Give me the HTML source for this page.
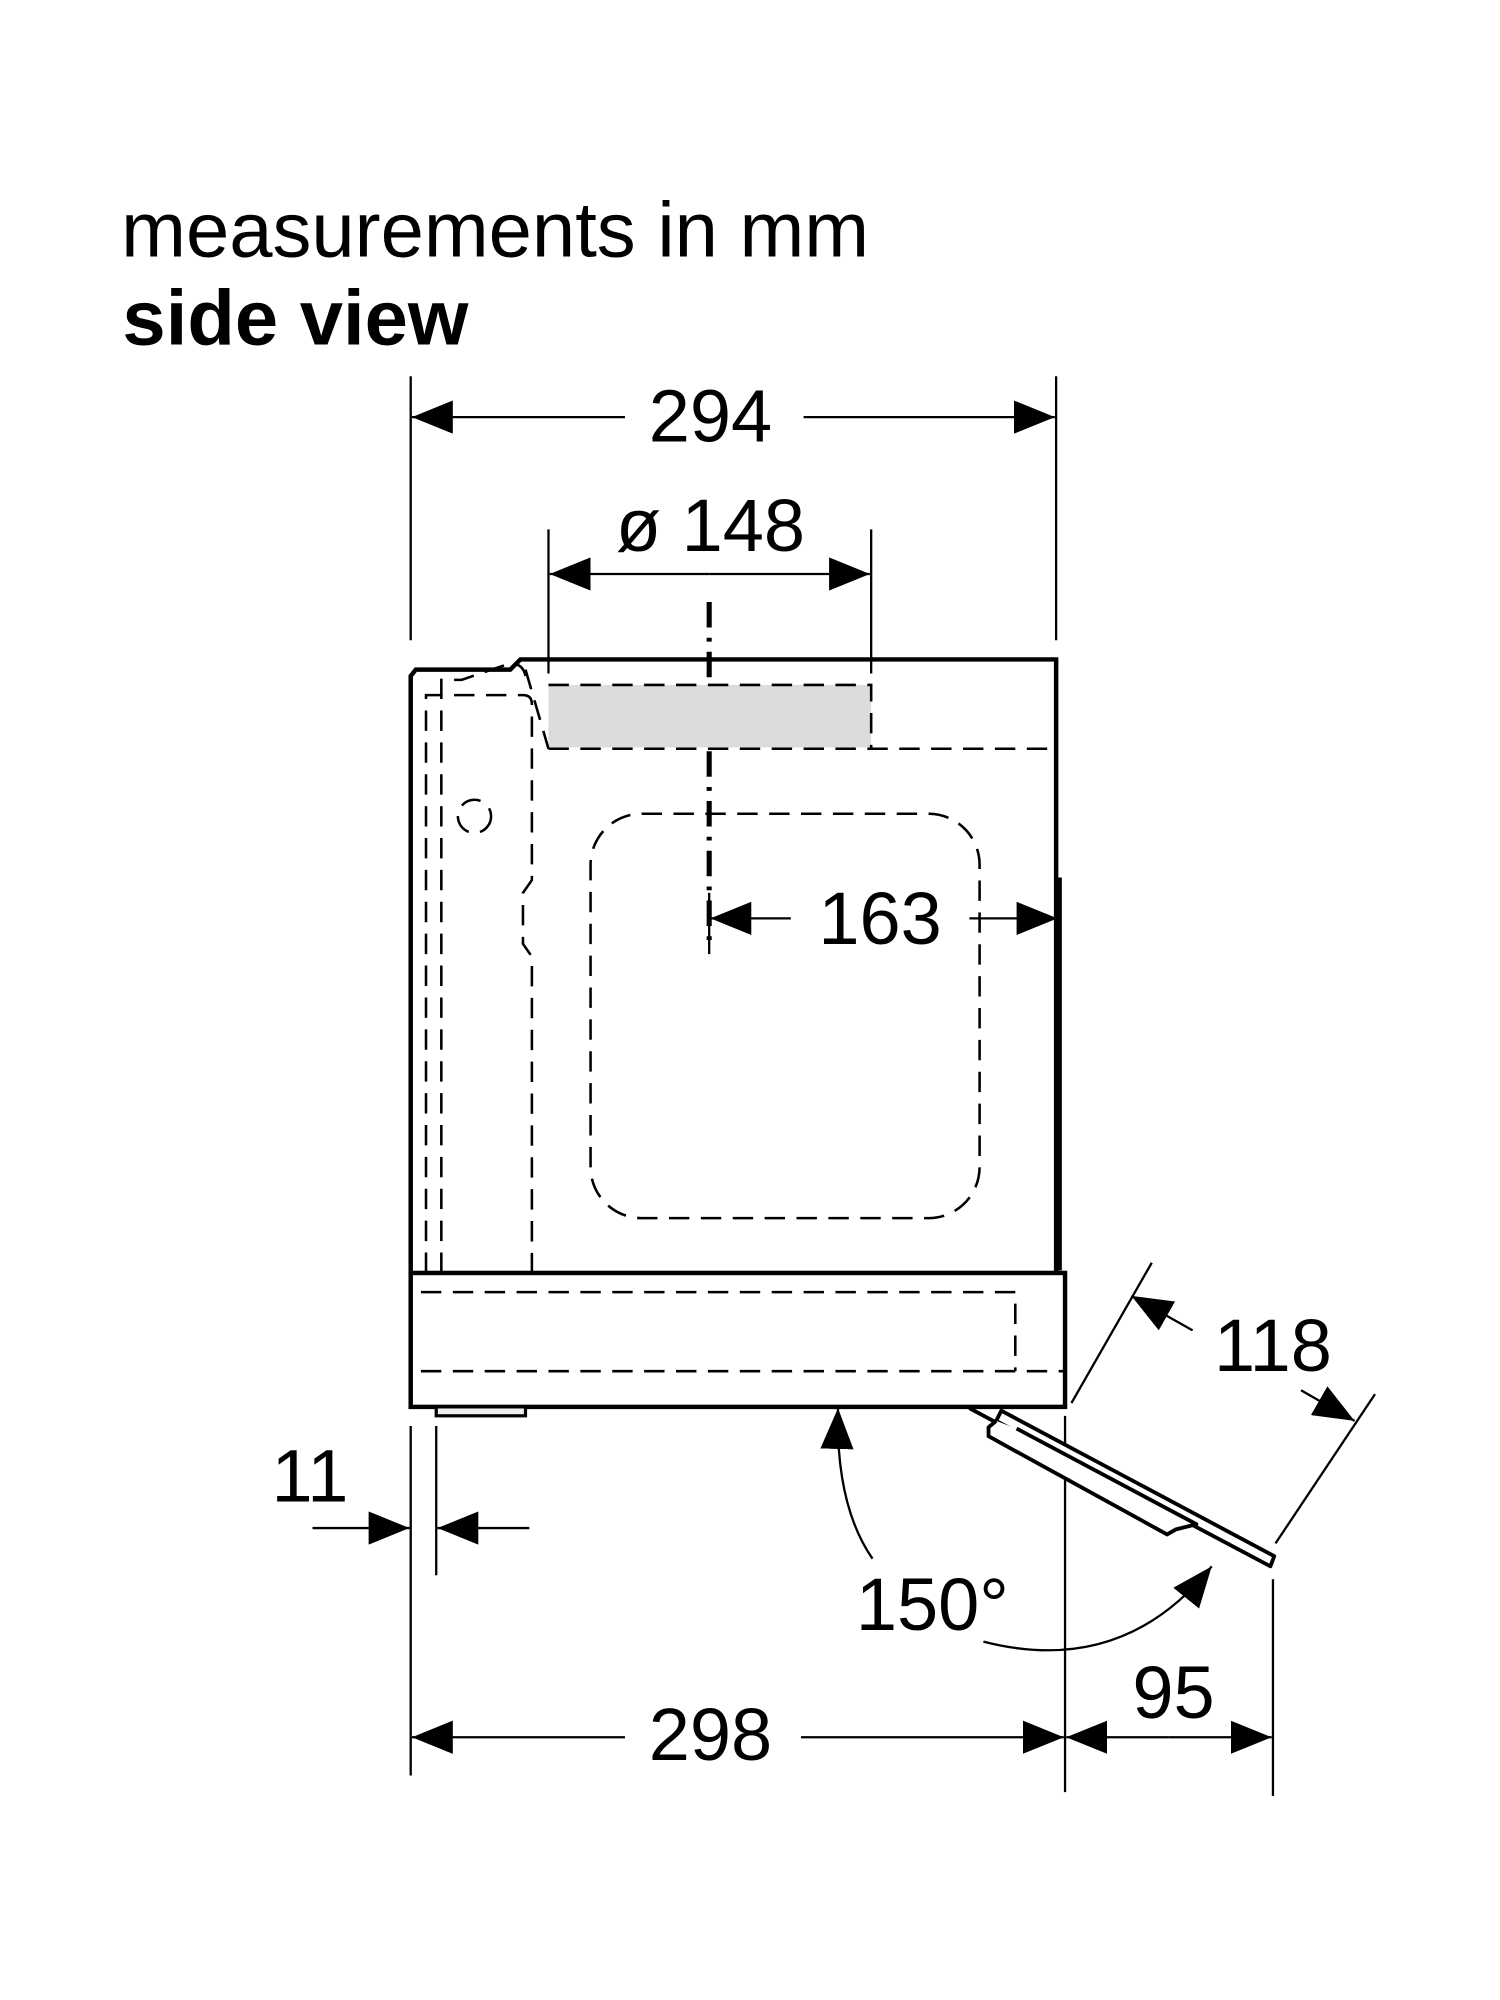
<!DOCTYPE html>
<html><head><meta charset="utf-8"><style>
html,body{margin:0;padding:0;background:#fff;width:1500px;height:2000px;overflow:hidden}
svg{display:block}
text{font-family:"Liberation Sans",Arial,sans-serif;fill:#000}
</style></head><body>
<svg width="1500" height="2000" viewBox="0 0 1176 1568" xmlns="http://www.w3.org/2000/svg">
<defs>
<marker id="a" viewBox="0 0 32 26" refX="32" refY="13" markerWidth="32" markerHeight="26" markerUnits="userSpaceOnUse" orient="auto"><path d="M0,0 L32,13 L0,26 Z" fill="#000"/></marker>
</defs>
<text x="95" y="201" font-size="61">measurements in mm</text>
<text x="96" y="270" font-size="61" font-weight="bold">side view</text>

<g stroke="#000" stroke-width="1.8" fill="none">
<line x1="322" y1="295" x2="322" y2="502"/>
<line x1="828" y1="295" x2="828" y2="502"/>
<line x1="490" y1="327" x2="323" y2="327" marker-end="url(#a)"/>
<line x1="630" y1="327" x2="827" y2="327" marker-end="url(#a)"/>
<line x1="430" y1="415" x2="430" y2="528"/>
<line x1="683" y1="415" x2="683" y2="528"/>
<line x1="556" y1="450" x2="431" y2="450" marker-end="url(#a)"/>
<line x1="556" y1="450" x2="682" y2="450" marker-end="url(#a)"/>
<line x1="556" y1="700" x2="556" y2="748"/>
<line x1="620" y1="720" x2="557" y2="720" marker-end="url(#a)"/>
<line x1="760" y1="720" x2="829" y2="720" marker-end="url(#a)"/>
<line x1="831" y1="688" x2="831" y2="996" stroke-width="3"/>
<line x1="342" y1="1118" x2="342" y2="1235"/>
<line x1="322" y1="1118" x2="322" y2="1392"/>
<line x1="245" y1="1198" x2="321" y2="1198" marker-end="url(#a)"/>
<line x1="415" y1="1198" x2="343" y2="1198" marker-end="url(#a)"/>
<line x1="835" y1="1110" x2="835" y2="1405"/>
<line x1="998" y1="1238" x2="998" y2="1408"/>
<line x1="490" y1="1362" x2="323" y2="1362" marker-end="url(#a)"/>
<line x1="628" y1="1362" x2="834" y2="1362" marker-end="url(#a)"/>
<line x1="916" y1="1362" x2="836" y2="1362" marker-end="url(#a)"/>
<line x1="916" y1="1362" x2="997" y2="1362" marker-end="url(#a)"/>
<line x1="840" y1="1100" x2="903" y2="990"/>
<line x1="1000" y1="1210" x2="1078" y2="1093"/>
<line x1="935" y1="1043" x2="887" y2="1016" marker-end="url(#a)"/>
<line x1="1020" y1="1090" x2="1062" y2="1114" marker-end="url(#a)"/>
<path d="M684,1222 Q655,1180 657,1104" marker-end="url(#a)"/>
<path d="M771,1287 Q880,1315 950,1228" marker-end="url(#a)"/>
</g>

<path d="M556,472 V745" stroke="#000" stroke-width="4" stroke-dasharray="20,8,3,8" fill="none"/>

<rect x="430" y="537" width="253" height="49" fill="#dcdcdc"/>

<path d="M322,998 V530 L326,525 H400 L408,517 H828 V998" stroke="#000" stroke-width="3.5" fill="none"/>
<rect x="322" y="998" width="513" height="105" stroke="#000" stroke-width="3.5" fill="#fff"/>
<rect x="342" y="1103" width="70" height="7" stroke="#000" stroke-width="2.5" fill="#eee"/>

<g stroke="#000" stroke-width="2" fill="none" stroke-dasharray="16,9">
<path d="M430,537 H683 V586"/>
<path d="M430,587 H826"/>
<path d="M412,525 L430,587"/>
<rect x="463" y="638" width="305" height="317" rx="40"/>
<path d="M330,1013 H796 V1075"/>
<path d="M330,1075 H834"/>
<path d="M334,998 V545 H410 Q417,545 417,552 V690 L410,700 V740 L417,750 V998"/>
<path d="M346,998 V533 H362 L400,520 Q410,520 412,530"/>
<circle cx="372" cy="640" r="13"/>
</g>

<g stroke="#000" stroke-width="3" fill="#fff" stroke-linejoin="round">
<path d="M760,1104 L790,1120"/>
<path d="M785,1106 L999,1220 L996,1228 L781,1114 Z"/>
<path d="M781,1114 L775,1119 L775,1126 L915,1203 L922,1199 L938,1195 L797,1120"/>
</g>

<g font-size="58">
<text x="557" y="346" text-anchor="middle">294</text>
<text x="557" y="432" text-anchor="middle">ø 148</text>
<text x="690" y="740" text-anchor="middle">163</text>
<text x="998" y="1075" text-anchor="middle">118</text>
<text x="243" y="1177" text-anchor="middle">11</text>
<text x="731" y="1278" text-anchor="middle">150°</text>
<text x="557" y="1380" text-anchor="middle">298</text>
<text x="920" y="1347" text-anchor="middle">95</text>
</g>
</svg>
</body></html>
